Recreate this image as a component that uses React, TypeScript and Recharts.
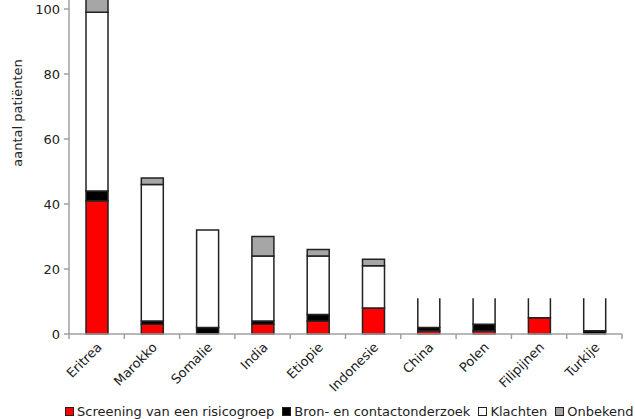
import React from "react";
import { BarChart, Bar, XAxis, YAxis } from "recharts";

const categories = [
  "Eritrea",
  "Marokko",
  "Somalie",
  "India",
  "Etiopie",
  "Indonesie",
  "China",
  "Polen",
  "Filipijnen",
  "Turkije",
];
const screening = [41, 3, 0, 3, 4, 8, 1, 1, 5, 0];
const bron = [3, 1, 2, 1, 2, 0, 1, 2, 0, 1];
const klachten = [55, 42, 30, 20, 18, 13, 9, 8, 6, 10];
const onbekend = [6, 2, 0, 6, 2, 2, 0, 0, 0, 0];
const yTicks = [0, 20, 40, 60, 80, 100, 120];

const series = [
  { key: "screening", name: "Screening van een risicogroep", color: "#ff0000" },
  { key: "bron", name: "Bron- en contactonderzoek", color: "#000000" },
  { key: "klachten", name: "Klachten", color: "#ffffff" },
  { key: "onbekend", name: "Onbekend", color: "#a6a6a6" },
];

const data = categories.map((name, i) => ({
  name,
  screening: screening[i],
  bron: bron[i],
  klachten: klachten[i],
  onbekend: onbekend[i],
}));

// in the original these bars are drawn without a top edge
const openTop = new Set(["China", "Polen", "Filipijnen", "Turkije"]);

const FONT = "'DejaVu Sans', Verdana, sans-serif";
const FS = 13;
const W = 635;
const H = 480;
const LEFT = 69;
const RIGHT = 13;
const PLOT_W = W - LEFT - RIGHT;
const BAND = PLOT_W / categories.length;
const AXIS = "#a0a0a0";
const EDGE = "#222";

const makeShape = (seg: string) => (props: any) => {
  const { x, y, width, height, fill, payload } = props;
  if (!height || height <= 0) return null;
  const open = seg === "klachten" && openTop.has(payload.name);
  const d = open
    ? `M${x},${y}V${y + height}H${x + width}V${y}`
    : `M${x},${y}H${x + width}V${y + height}H${x}Z`;
  return (
    <g>
      <rect x={x} y={y} width={width} height={height} fill={fill} />
      <path d={d} fill="none" stroke={EDGE} strokeWidth={1.5} />
    </g>
  );
};

const XTick = (props: any) => {
  const { x, y, payload, index } = props;
  const left = x - BAND / 2;
  return (
    <g>
      <line x1={left} y1={y} x2={left} y2={y + 5} stroke={AXIS} strokeWidth={1.5} />
      {index === categories.length - 1 && (
        <line x1={x + BAND / 2} y1={y} x2={x + BAND / 2} y2={y + 5} stroke={AXIS} strokeWidth={1.5} />
      )}
      <text
        x={x + 6}
        y={y + 14}
        textAnchor="end"
        transform={`rotate(-45, ${x + 6}, ${y + 14})`}
        fontFamily={FONT}
        fontSize={FS}
        fill="#222"
      >
        {payload.value}
      </text>
    </g>
  );
};

const YLabel = (props: any) => {
  const { x, y, width, height } = props.viewBox;
  const cx = x + width - 52;
  const cy = y + height / 2 - 26;
  return (
    <text
      x={cx}
      y={cy}
      transform={`rotate(-90, ${cx}, ${cy})`}
      textAnchor="middle"
      dominantBaseline="central"
      fontFamily={FONT}
      fontSize={FS}
      fill="#222"
    >
      aantal patiënten
    </text>
  );
};

export default function App() {
  return (
    <div style={{ position: "absolute", left: 0, top: 0, width: W, height: 419, overflow: "hidden" }}>
      <div style={{ position: "absolute", left: 0, top: -66 }}>
        <BarChart
          width={W}
          height={H}
          data={data}
          margin={{ top: 10, right: RIGHT, bottom: 30, left: 0 }}
        >
          <XAxis
            dataKey="name"
            height={50}
            interval={0}
            tickSize={0}
            tickMargin={0}
            tickLine={false}
            axisLine={{ stroke: AXIS, strokeWidth: 1.5 }}
            tick={<XTick />}
          />
          <YAxis
            width={LEFT}
            domain={[0, 120]}
            ticks={yTicks}
            interval={0}
            tickSize={5}
            tickMargin={4}
            tickLine={{ stroke: AXIS, strokeWidth: 1.5 }}
            axisLine={{ stroke: AXIS, strokeWidth: 1.5 }}
            tick={{ fontFamily: FONT, fontSize: FS, fill: "#222" }}
            label={{ content: <YLabel /> }}
          />
          {series.map((s) => (
            <Bar
              key={s.key}
              dataKey={s.key}
              name={s.name}
              stackId="a"
              fill={s.color}
              barSize={22}
              shape={makeShape(s.key)}
              isAnimationActive={false}
            />
          ))}
        </BarChart>
      </div>
      <div
        style={{
          position: "absolute",
          left: 65,
          top: 404,
          display: "flex",
          whiteSpace: "nowrap",
          fontFamily: FONT,
          fontSize: FS,
          color: "#222",
          lineHeight: "15px",
        }}
      >
        {series.map((s) => (
          <div key={s.key} style={{ display: "flex", alignItems: "center", marginRight: 8 }}>
            <span
              style={{
                display: "inline-block",
                width: 7,
                height: 7,
                background: s.color,
                border: `1px solid ${EDGE}`,
                marginRight: 3,
              }}
            />
            <span>{s.name}</span>
          </div>
        ))}
      </div>
    </div>
  );
}
